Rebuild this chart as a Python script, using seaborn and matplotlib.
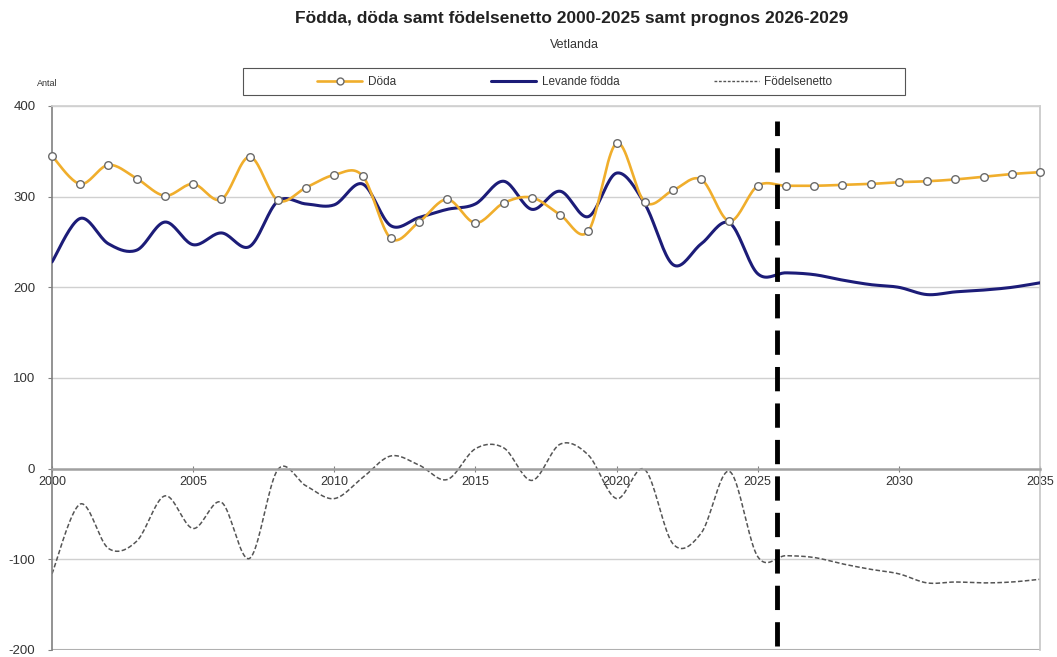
import numpy as np
import pandas as pd
import matplotlib
matplotlib.use("Agg")
import matplotlib.pyplot as plt
from matplotlib.lines import Line2D
from matplotlib.patches import Rectangle
import seaborn as sns

years = list(range(2000, 2036))
doda = [345, 314, 335, 320, 301, 314, 297, 344, 296, 310,
        324, 323, 254, 272, 297, 271, 293, 299, 280, 262,
        359, 294, 307, 319, 273, 312, 312, 312, 313, 314,
        316, 317, 319, 322, 325, 327]
fodda = [228, 276, 248, 241, 272, 247, 260, 245, 295, 292,
         291, 314, 268, 277, 286, 292, 317, 286, 306, 278,
         326, 292, 225, 248, 271, 215, 216, 214, 208, 203,
         200, 192, 195, 197, 200, 205]
netto = [-116, -39, -88, -80, -30, -66, -37, -99, -1, -19,
         -33, -10, 14, 4, -12, 22, 23, -13, 27, 15,
         -33, -1, -83, -71, -3, -97, -96, -98, -105, -111,
         -116, -126, -125, -126, -125, -122]
prognos_start = 2025.7

title = "Födda, döda samt födelsenetto 2000-2025 samt prognos 2026-2029"
subtitle = "Vetlanda"


def smooth(x, y, n=20):
    # Catmull-Rom spline through the points, like a smoothed Excel line
    x = np.asarray(x, float)
    y = np.asarray(y, float)
    px = np.concatenate([[x[0]], x, [x[-1]]])
    py = np.concatenate([[y[0]], y, [y[-1]]])
    xs, ys = [], []
    t = np.linspace(0, 1, n, endpoint=False)
    for i in range(1, len(px) - 2):
        for p, out in ((px, xs), (py, ys)):
            p0, p1, p2, p3 = p[i - 1], p[i], p[i + 1], p[i + 2]
            out.append(0.5 * (2 * p1 + (-p0 + p2) * t
                              + (2 * p0 - 5 * p1 + 4 * p2 - p3) * t ** 2
                              + (-p0 + 3 * p1 - 3 * p2 + p3) * t ** 3))
    xs.append([x[-1]])
    ys.append([y[-1]])
    return pd.DataFrame({"x": np.concatenate(xs), "y": np.concatenate(ys)})


sns.set_theme(style="white")
plt.rcParams["font.family"] = ["Liberation Sans", "DejaVu Sans"]
plt.rcParams["axes.unicode_minus"] = False

ORANGE = "#f0ae2c"
NAVY = "#1c1c78"
GREY = "#555555"

fig = plt.figure(figsize=(10.57, 6.57), dpi=100)
ax = fig.add_axes([52 / 1057, 7 / 657, 988 / 1057, 544 / 657])

# gridlines
for v in [100, 200, 300, 400, -100]:
    ax.axhline(v, color="#d0d0d0", lw=1.0, zorder=0)
ax.axhline(-200, color="#b0b0b0", lw=1.5, zorder=0)

sns.lineplot(data=smooth(years, netto), x="x", y="y", ax=ax, color=GREY,
             lw=1.1, linestyle=(0, (3, 1.5)), sort=False, zorder=2)
sns.lineplot(data=smooth(years, fodda), x="x", y="y", ax=ax, color=NAVY,
             lw=2.2, sort=False, zorder=3)
sns.lineplot(data=smooth(years, doda), x="x", y="y", ax=ax, color=ORANGE,
             lw=1.9, sort=False, zorder=4)
sns.scatterplot(x=years, y=doda, ax=ax, s=30, color="white",
                edgecolor="#6a6a6a", linewidth=1.0, zorder=5, clip_on=False)

ax.vlines(prognos_start, -196, 383, color="black", lw=3.5,
          linestyle=(0, (5, 2.5)), zorder=6)

ax.set_xlim(2000, 2035)
ax.set_ylim(-200, 400)
ax.set_xticks(range(2000, 2036, 5))
ax.set_yticks(range(-200, 401, 100))
ax.set_xlabel("")
ax.set_ylabel("")

ax.spines["bottom"].set_position(("data", 0))
ax.spines["bottom"].set_color("#a0a0a0")
ax.spines["bottom"].set_linewidth(1.8)
ax.spines["left"].set_color("#808080")
ax.spines["left"].set_linewidth(1.2)
ax.spines["right"].set_color("#c8c8c8")
ax.spines["top"].set_color("#d0d0d0")
ax.tick_params(axis="x", direction="inout", length=4, width=0.8,
               color="#808080", pad=3, labelsize=9, labelcolor="#333333")
ax.tick_params(axis="y", direction="out", length=3, width=0.8,
               color="#808080", pad=9, labelsize=9.5, labelcolor="#333333")
ax.tick_params(axis="both", which="both", bottom=True, left=True)

fig.text(572 / 1057, 1 - 18 / 657, title, ha="center", va="center",
         fontsize=12.5, fontweight="bold", color="#222222")
fig.text(574 / 1057, 1 - 45 / 657, subtitle, ha="center", va="center",
         fontsize=9, color="#333333")
fig.text(37 / 1057, 1 - 84 / 657, "Antal", ha="left", va="center",
         fontsize=6.5, color="#333333")

# legend box
fig.patches.append(Rectangle((243 / 1057, 1 - 95 / 657), 662 / 1057, 27 / 657,
                             transform=fig.transFigure, facecolor="white",
                             edgecolor="#555555", lw=0.8))
handles = [
    Line2D([], [], color=ORANGE, lw=1.9, marker="o", markersize=5,
           markerfacecolor="white", markeredgecolor="#6a6a6a"),
    Line2D([], [], color=NAVY, lw=2.2),
    Line2D([], [], color=GREY, lw=1.0, linestyle=(0, (2, 1.2))),
]
leg = fig.legend(handles, ["Döda", "Levande födda", "Födelsenetto"],
                 ncol=3, loc="center",
                 bbox_to_anchor=(575 / 1057, 1 - 82 / 657),
                 frameon=False, fontsize=8.5, handlelength=3.8,
                 borderaxespad=0, columnspacing=8.0,
                 handletextpad=0.5, labelcolor="#333333")

fig.savefig("out.png", dpi=100)
